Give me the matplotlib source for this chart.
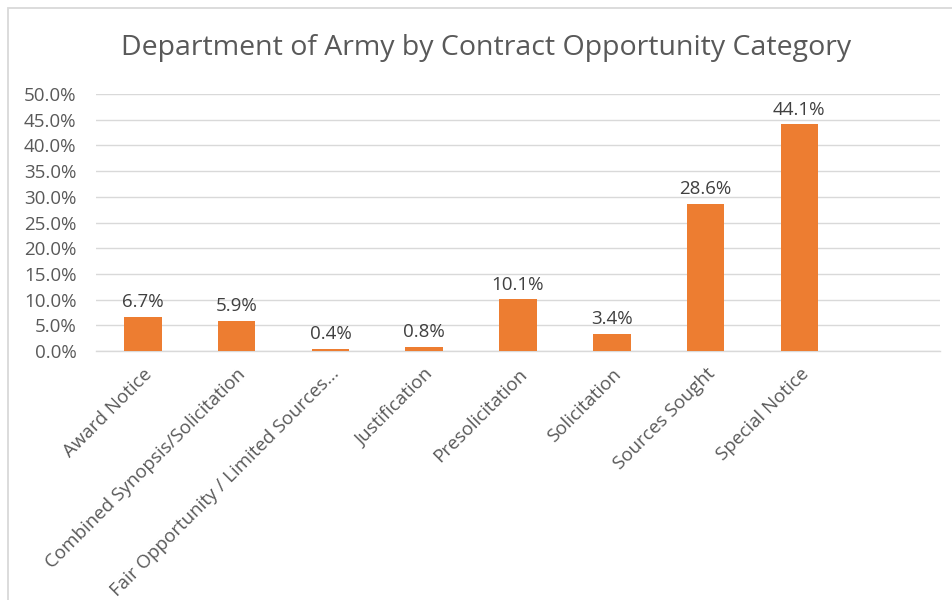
import matplotlib.pyplot as plt
from matplotlib.patches import Rectangle
from matplotlib.ticker import PercentFormatter

# data (percent)
categories = ['Award Notice', 'Combined Synopsis/Solicitation',
              'Fair Opportunity / Limited Sources...', 'Justification',
              'Presolicitation', 'Solicitation', 'Sources Sought',
              'Special Notice', '']
values = [6.7, 5.9, 0.4, 0.8, 10.1, 3.4, 28.6, 44.1, None]
yticks = [0, 5, 10, 15, 20, 25, 30, 35, 40, 45, 50]

plt.rcParams['font.family'] = ['Open Sans', 'DejaVu Sans']

fig = plt.figure(figsize=(9.52, 6), dpi=100)
ax = fig.add_axes([96 / 952, 1 - 351 / 600, (940 - 96) / 952, (351 - 94) / 600])

# chart border (cropped on the right and bottom)
fig.patches.append(Rectangle((8 / 952, -0.1), 1.1, 1 - 8 / 600 + 0.1,
                             transform=fig.transFigure, fill=False,
                             edgecolor='#d9d9d9', linewidth=1.3))

x = list(range(len(categories)))
heights = [v if v is not None else 0 for v in values]
bars = ax.bar(x, heights, width=0.4, color='#ed7d31', zorder=3)
for b, v in zip(bars, values):
    if v is None:
        continue
    ax.annotate('%.1f%%' % v, (b.get_x() + b.get_width() / 2, v),
                xytext=(0, 4), textcoords='offset points', ha='center',
                va='bottom', fontsize=13.5, color='#404040')

ax.set_xlim(-0.5, len(categories) - 0.5)
ax.set_ylim(0, 50)
ax.set_yticks(yticks)
ax.yaxis.set_major_formatter(PercentFormatter(decimals=1))
ax.grid(axis='y', color='#d9d9d9', linewidth=1, zorder=0)
for s in ['top', 'right', 'left']:
    ax.spines[s].set_visible(False)
ax.spines['bottom'].set_color('#d9d9d9')
ax.spines['bottom'].set_linewidth(1)
ax.tick_params(axis='both', length=0, labelsize=13.5, labelcolor='#595959')
ax.tick_params(axis='y', pad=14)
ax.set_xticks(x)
ax.set_xticklabels(categories, rotation=45, ha='right', rotation_mode='anchor')
ax.tick_params(axis='x', pad=10)

fig.text(486 / 952, 1 - 48 / 600, 'Department of Army by Contract Opportunity Category',
         ha='center', va='center', fontsize=20.5, color='#595959')

fig.savefig('out.png', dpi=100, facecolor='white')
